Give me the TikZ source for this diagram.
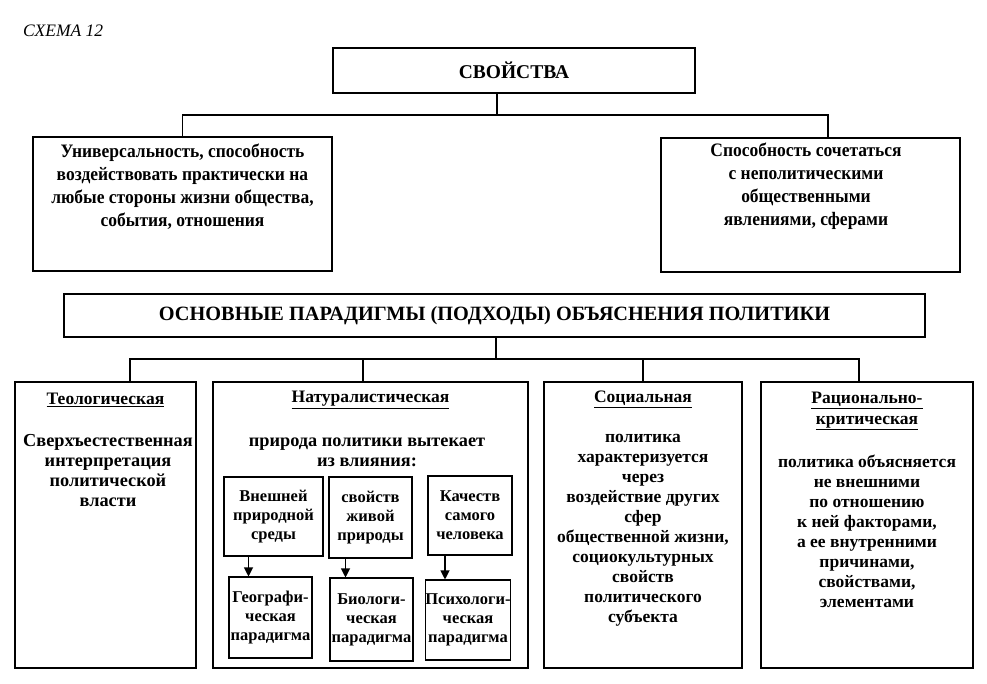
\documentclass[tikz,border=0pt]{standalone}
\usepackage{fontspec}
\setmainfont{Liberation Serif}
\newfontfamily\narrowserif[FakeStretch=0.92]{Liberation Serif}
\usetikzlibrary{arrows.meta}

\begin{document}
\begin{tikzpicture}[
			x=1pt, y=-1pt,
			boxnode/.style={
				rectangle,
				draw=black,
				line width=1.1pt,
				inner sep=0pt
			},
			headnode/.style={
				boxnode,
				font=\bfseries\fontsize{19.5}{22}\selectfont
			},
			propnode/.style={
				boxnode,
				minimum width=299pt,
				minimum height=134pt
			},
			proptext/.style={
				align=center,
				inner sep=0pt,
				font=\narrowserif\bfseries\fontsize{19}{23}\selectfont
			},
			parnode/.style={
				boxnode,
				minimum height=286pt
			},
			partitle/.style={
				align=center,
				inner sep=0pt,
				font=\bfseries\fontsize{17.5}{21}\selectfont
			},
			partext/.style={
				align=center,
				inner sep=0pt,
				font=\bfseries\fontsize{17.5}{20}\selectfont
			},
			subnode/.style={
				boxnode,
				align=center,
				font=\bfseries\fontsize{16.5}{19}\selectfont
			},
			link/.style={
				line width=1.1pt,
				draw=black
			},
			arrow/.style={
				-{Triangle[length=9pt,width=9pt]},
				line width=1.1pt,
				draw=black
			}
			]
			\useasboundingbox (0,0) rectangle (987,683);
			
			\node[anchor=base west, inner sep=0pt, font=\itshape\fontsize{17.5}{20}\selectfont] (schema) at (23,36) {СХЕМА 12};
			
			% свойства
			\node[headnode, minimum width=362pt, minimum height=45pt] (props) at (514,70.5) {СВОЙСТВА};
			\node[propnode] (univ) at (182.5,204) {};
			\node[propnode] (comb) at (810.5,205) {};
			\node[proptext] (univtxt) at (182.5,186.5) {Универсальность, способность\\воздействовать практически на\\любые стороны жизни общества,\\события, отношения};
			\node[proptext] (combtxt) at (806,186.5) {Способность сочетаться\\с неполитическими\\общественными\\явлениями, сферами};
			
			\coordinate (pj) at (497,115);
			\draw[link] (props.south -| pj) -- (pj);
			\draw[link] (univ.north) |- (pj) -| ([xshift=17.5pt]comb.north);
			
			% парадигмы
			\node[headnode, minimum width=861pt, minimum height=43pt, font=\bfseries\fontsize{20.3}{22}\selectfont] (main) at (494.5,315.5) {ОСНОВНЫЕ ПАРАДИГМЫ (ПОДХОДЫ) ОБЪЯСНЕНИЯ ПОЛИТИКИ};
			
			\node[parnode, minimum width=181pt] (teo) at (105.5,525) {};
			\node[parnode, minimum width=315pt] (natur) at (370.5,525) {};
			\node[parnode, minimum width=198pt] (social) at (643,525) {};
			\node[parnode, minimum width=212pt] (ration) at (867,525) {};
			
			\coordinate (mj) at (496,359);
			\draw[link] (main.south -| mj) -- (mj);
			\draw[link] ([xshift=24.5pt]teo.north) |- (mj) -| ([xshift=-8pt]ration.north);
			\draw[link] ([xshift=-7.5pt]natur.north) -- ([xshift=-7.5pt]natur.north |- mj);
			\draw[link] (social.north) -- (social.north |- mj);
			
			\node[partitle] (teohead) at (105.5,400) {\underline{Теологическая}};
			\node[partext, font=\bfseries\fontsize{18.3}{20}\selectfont] (teotxt) at (108,471) {Сверхъестественная\\интерпретация\\политической\\власти};
			
			\node[partitle] (naturhead) at (370.5,400) {\underline{Натуралистическая}};
			\node[partext, font=\bfseries\fontsize{18.3}{20}\selectfont] (naturtxt) at (367,452) {природа политики вытекает\\из влияния:};
			
			\node[partitle] (socialhead) at (643,399) {\underline{Социальная}};
			\node[partext] (socialtxt) at (643,530) {политика\\характеризуется\\через\\воздействие других\\сфер\\общественной жизни,\\социокультурных\\свойств\\политического\\субъекта};
			
			\node[partitle] (rationhead) at (867,411) {\underline{Рационально-}\\\underline{критическая}};
			\node[partext] (rationtxt) at (867,531) {политика объясняется\\не внешними\\по отношению\\к ней факторами,\\а ее внутренними\\причинами,\\свойствами,\\элементами};
			
			% натуралистическая: источники и парадигмы
			\node[subnode, minimum width=99pt, minimum height=79pt] (envsrc) at (273.5,516.5) {Внешней\\природной\\среды};
			\node[subnode, minimum width=83pt, minimum height=81pt] (biosrc) at (370.5,517.5) {свойств\\живой\\природы};
			\node[subnode, minimum width=84pt, minimum height=79pt] (psysrc) at (470,515.5) {Качеств\\самого\\человека};
			\node[subnode, minimum width=83pt, minimum height=81pt] (geopar) at (270.5,617.5) {Географи-\\ческая\\парадигма};
			\node[subnode, minimum width=83pt, minimum height=83pt] (biopar) at (371.5,619.5) {Биологи-\\ческая\\парадигма};
			\node[subnode, minimum width=80pt, minimum height=80pt] (psypar) at (468,620) {Психологи-\\ческая\\парадигма};
			
			\draw[arrow] ([xshift=-25pt]envsrc.south) -- ([xshift=-25pt]envsrc.south |- geopar.north);
			\draw[arrow] ([xshift=-25pt]biosrc.south) -- ([xshift=-25pt]biosrc.south |- biopar.north);
			\draw[arrow] ([xshift=-25pt]psysrc.south) -- ([xshift=-25pt]psysrc.south |- psypar.north);
		\end{tikzpicture}
\end{document}
